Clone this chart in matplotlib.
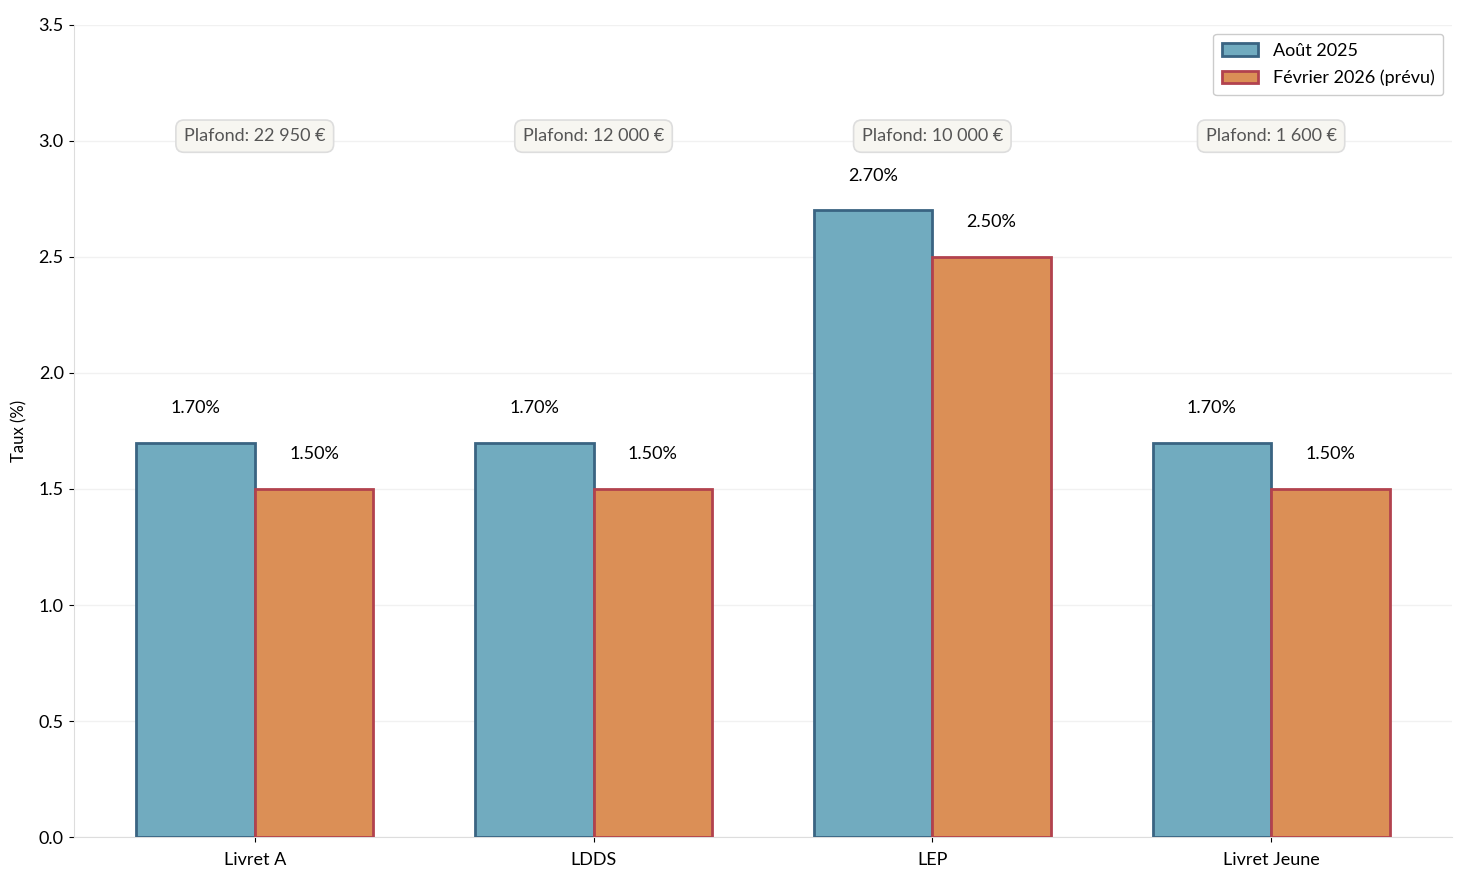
import numpy as np
import matplotlib.pyplot as plt

plt.rcParams['font.family'] = ['Lato', 'DejaVu Sans']

# ===============================
# Data
# ===============================
livrets = ["Livret A", "LDDS", "LEP", "Livret Jeune"]
taux_aout_2025 = [1.70, 1.70, 2.70, 1.70]
taux_fev_2026 = [1.50, 1.50, 2.50, 1.50]
plafonds = ["22 950 €", "12 000 €", "10 000 €", "1 600 €"]

# ===============================
# Plot
# ===============================
fig, ax = plt.subplots(figsize=(14.7, 8.84), dpi=100)

x = np.arange(len(livrets))
width = 0.35

ax.bar(x - width / 2, taux_aout_2025, width,
       color="#71abbf", edgecolor="#3a6482", linewidth=2,
       label="Août 2025", zorder=3)
ax.bar(x + width / 2, taux_fev_2026, width,
       color="#db8f56", edgecolor="#b2424e", linewidth=2,
       label="Février 2026 (prévu)", zorder=3)

# valeurs au-dessus des barres
for xi, v in zip(x - width / 2, taux_aout_2025):
    ax.text(xi, v + 0.15, f"{v:.2f}%", ha="center", va="center", fontsize=13)
for xi, v in zip(x + width / 2, taux_fev_2026):
    ax.text(xi, v + 0.15, f"{v:.2f}%", ha="center", va="center", fontsize=13)

# plafonds
for xi, p in zip(x, plafonds):
    ax.text(xi, 3.02, f"Plafond: {p}", ha="center", va="center",
            fontsize=13, color="#555555",
            bbox=dict(boxstyle="round,pad=0.45", facecolor="#f7f6f1",
                      edgecolor="#dddddd", linewidth=1.2))

ax.set_xticks(x)
ax.set_xticklabels(livrets, fontsize=13)
ax.set_ylim(0, 3.5)
ax.set_yticks(np.arange(0, 3.51, 0.5))
ax.tick_params(axis="y", labelsize=13)
ax.tick_params(axis="x", pad=7)
ax.set_ylabel("Taux (%)", fontsize=12, labelpad=8)

ax.grid(axis="y", color="#eeeeee", linewidth=1, alpha=0.8, zorder=0)
ax.spines["top"].set_visible(False)
ax.spines["right"].set_visible(False)
ax.spines["left"].set_color("#dddddd")
ax.spines["bottom"].set_color("#dddddd")

ax.legend(loc="upper right", fontsize=13, framealpha=1, edgecolor="#cccccc",
          labelspacing=0.6, borderpad=0.5)

fig.subplots_adjust(left=0.05, right=0.988, top=0.972, bottom=0.053)
fig.savefig("out.png", dpi=100)
